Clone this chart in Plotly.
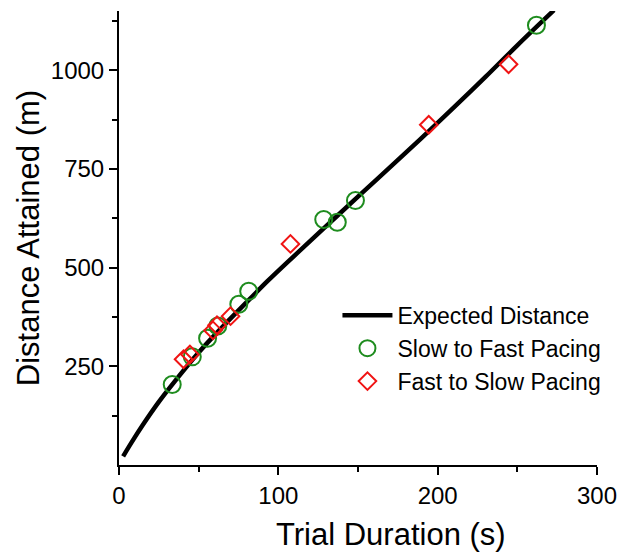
import plotly.graph_objects as go

# Expected distance curve
curve_t = [2.6, 8, 15, 25, 35, 50, 65, 82, 93, 110, 130, 150, 162, 189, 210, 230, 250, 273]
curve_d = [22, 58, 102, 160, 212, 285, 350, 420, 465, 530, 605, 680, 724, 825, 905, 983, 1063, 1152]

# Slow to Fast pacing
sf_t = [33.4, 46, 55.6, 62, 75.2, 81.4, 128.5, 137, 148.4, 262]
sf_d = [204, 274, 321, 352, 407, 440, 622, 615, 670, 1114]

# Fast to Slow pacing
fs_t = [40.5, 44.5, 59, 61.5, 70, 107.6, 194.4, 244.5]
fs_d = [268, 280, 341, 354, 377, 560, 862, 1015]

x_ticks = [0, 100, 200, 300]
x_minor = [50, 150, 250]
y_ticks = [250, 500, 750, 1000]
y_minor = [125, 375, 625, 875, 1125]

FONT = "Liberation Sans, Arial, sans-serif"

fig = go.Figure()
fig.add_trace(go.Scatter(x=curve_t, y=curve_d, mode="lines", name="Expected Distance",
                         line=dict(color="black", width=4.5, shape="spline")))
fig.add_trace(go.Scatter(x=sf_t, y=sf_d, mode="markers", name="Slow to Fast Pacing",
                         marker=dict(symbol="circle-open", size=17, color="#1e8c1e",
                                     line=dict(width=2, color="#1e8c1e"))))
fig.add_trace(go.Scatter(x=fs_t, y=fs_d, mode="markers", name="Fast to Slow Pacing",
                         marker=dict(symbol="diamond-open", size=13.5, color="#f01414",
                                     line=dict(width=2, color="#f01414"))))

axis_common = dict(showgrid=False, zeroline=False, showline=True, linecolor="black",
                   linewidth=2, ticks="outside", ticklen=8, tickwidth=2, tickcolor="black",
                   automargin=False,
                   tickfont=dict(family=FONT, size=24, color="black"))

fig.update_xaxes(range=[0, 300], tickvals=x_ticks, ticktext=[str(v) for v in x_ticks],
                 minor=dict(tickvals=x_minor, ticklen=5, tickwidth=2, tickcolor="black", ticks="outside"),
                 **axis_common)
fig.update_yaxes(range=[0, 1150], tickvals=y_ticks, ticktext=[str(v) for v in y_ticks],
                 minor=dict(tickvals=y_minor, ticklen=5, tickwidth=2, tickcolor="black", ticks="outside"),
                 title=dict(text="Distance Attained (m)", font=dict(family=FONT, size=31, color="black"), standoff=2),
                 **axis_common)

# x-axis title (placed slightly right of centre, as in the original)
fig.add_annotation(text="Trial Duration (s)", xref="paper", yref="paper", x=0.568, y=0,
                   xanchor="center", yanchor="top", yshift=-50, showarrow=False,
                   font=dict(family=FONT, size=31, color="black"))

# page body has an 8px margin, so the figure is sized/offset to compensate
fig.update_layout(
    width=617, height=544,
    margin=dict(l=110.5, r=28.3, t=3, b=86.5),
    plot_bgcolor="white", paper_bgcolor="white",
    font=dict(family=FONT, color="black"),
    legend=dict(x=0.457, y=0.377, xanchor="left", yanchor="top",
                font=dict(family=FONT, size=23, color="black"),
                bgcolor="rgba(0,0,0,0)", itemwidth=50, tracegroupgap=0,
                borderwidth=0),
    showlegend=True,
)

fig.write_html("out.html")
